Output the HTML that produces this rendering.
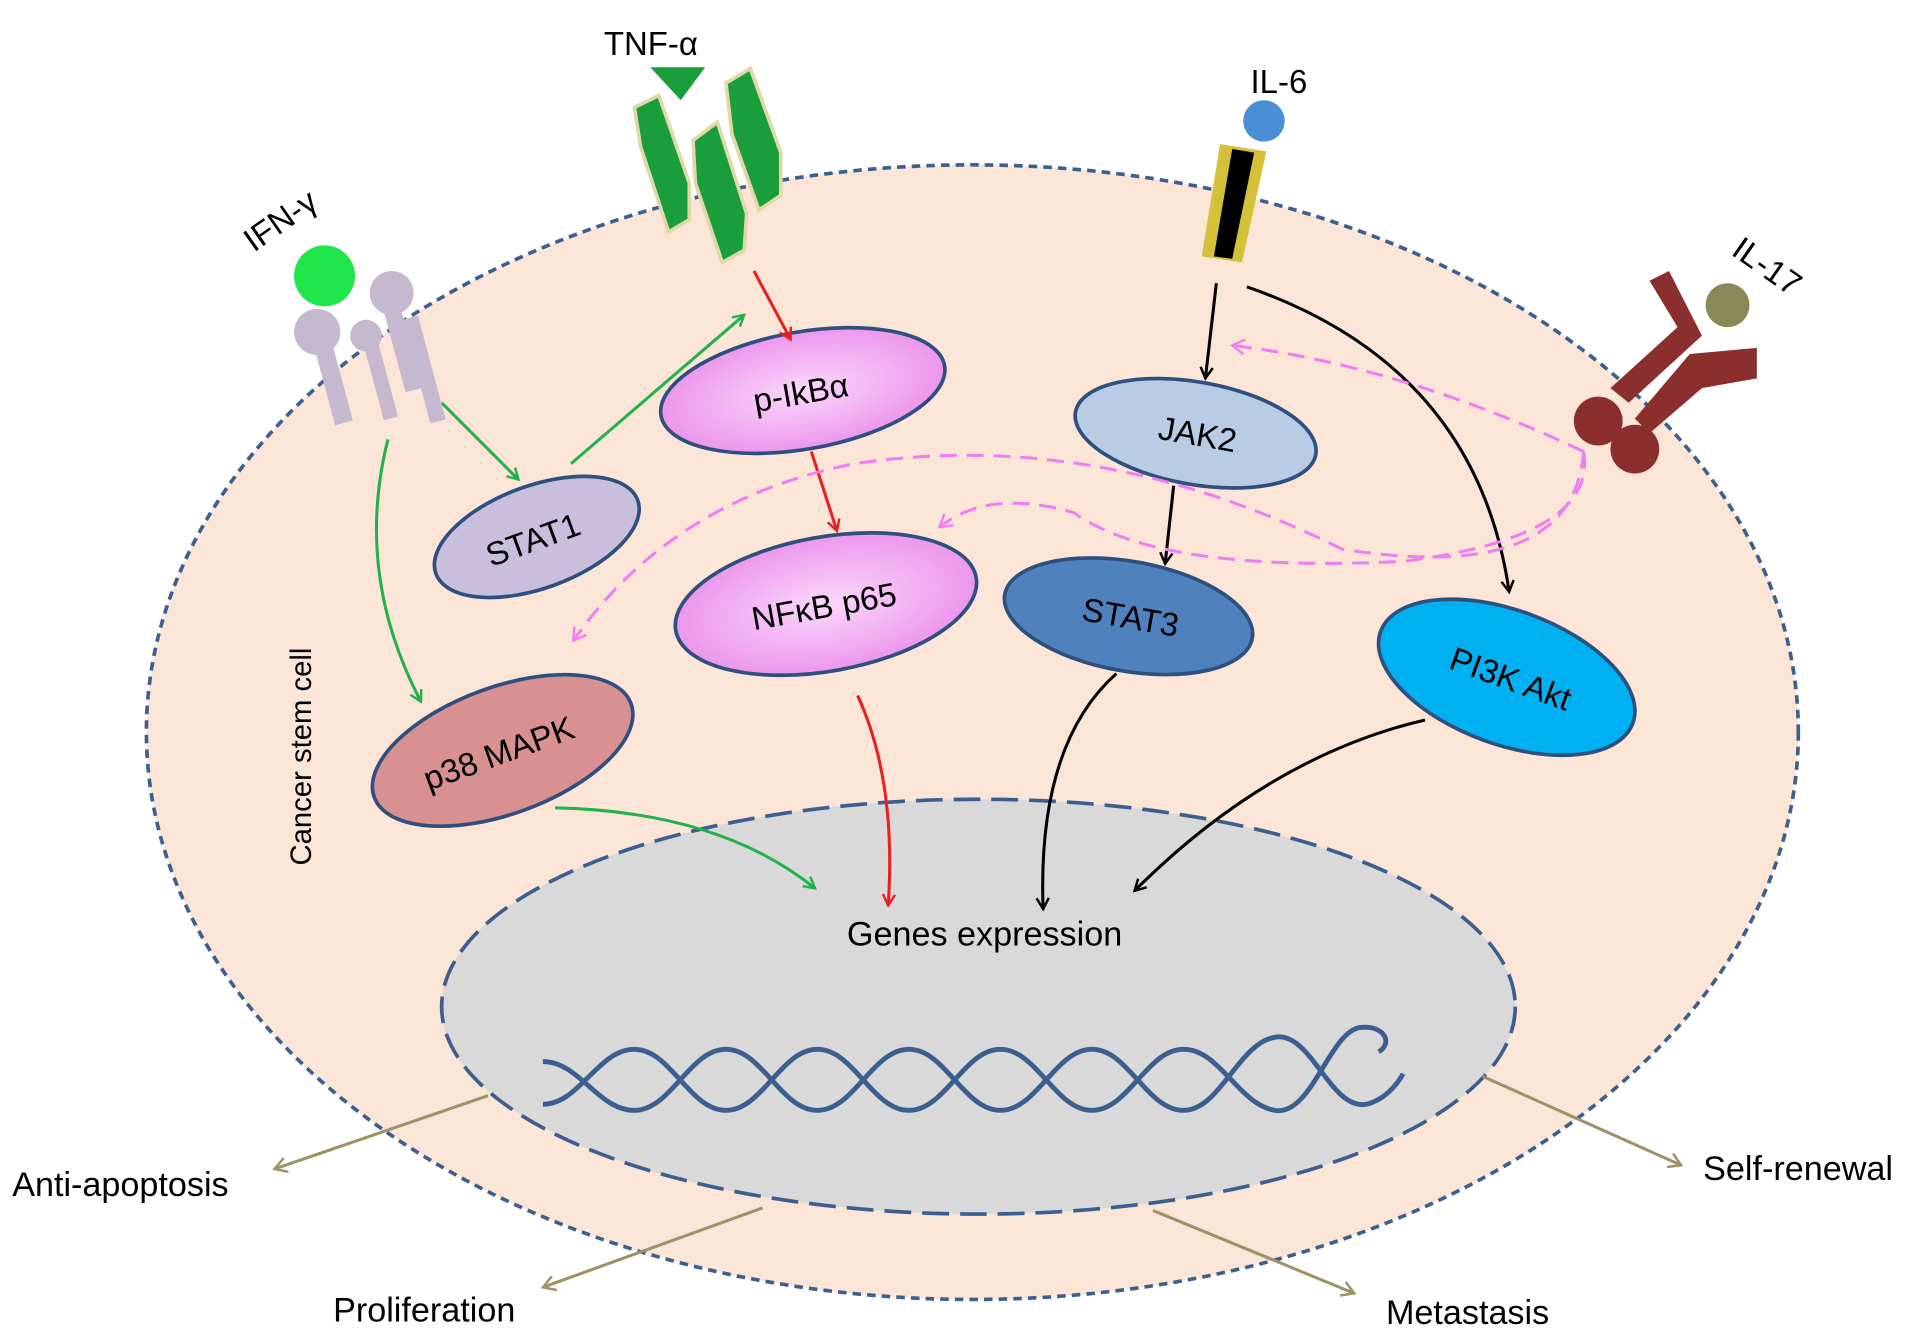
<!DOCTYPE html>
<html><head><style>html,body{margin:0;padding:0;background:#fff}svg{display:block}</style></head><body>
<svg width="1913" height="1335" viewBox="0 0 1568 1094" xmlns="http://www.w3.org/2000/svg" font-family="Liberation Sans, sans-serif">
<defs>
<radialGradient id="pk" cx="50%" cy="50%" r="60%"><stop offset="0" stop-color="#fbd8fb"/><stop offset="1" stop-color="#e98ae9"/></radialGradient>
<marker id="ag" markerWidth="12" markerHeight="12" refX="10" refY="6" orient="auto" markerUnits="userSpaceOnUse"><path d="M1,1 L10,6 L1,11" fill="none" stroke="#22b24c" stroke-width="2"/></marker>
<marker id="ar" markerWidth="12" markerHeight="12" refX="10" refY="6" orient="auto" markerUnits="userSpaceOnUse"><path d="M1,1 L10,6 L1,11" fill="none" stroke="#e8201e" stroke-width="2"/></marker>
<marker id="ak" markerWidth="12" markerHeight="12" refX="10" refY="6" orient="auto" markerUnits="userSpaceOnUse"><path d="M1,1 L10,6 L1,11" fill="none" stroke="#000" stroke-width="2"/></marker>
<marker id="ap" markerWidth="14" markerHeight="14" refX="11" refY="7" orient="auto" markerUnits="userSpaceOnUse"><path d="M1,1 L11,7 L1,13" fill="none" stroke="#f07ef0" stroke-width="2"/></marker>
<marker id="ab" markerWidth="14" markerHeight="14" refX="11" refY="7" orient="auto" markerUnits="userSpaceOnUse"><path d="M1,1 L11,7 L1,13" fill="none" stroke="#9c9266" stroke-width="2"/></marker>
</defs>
<ellipse cx="797" cy="600" rx="677" ry="465" fill="#fbe5d6" stroke="#3d5f8f" stroke-width="3" stroke-dasharray="7,5"/>
<ellipse cx="802" cy="825" rx="440" ry="170" fill="#d9d9d9" stroke="#3d5f8f" stroke-width="3" stroke-dasharray="22,9"/>
<g fill="none" stroke="#3d5f8f" stroke-width="4">
<path d="M445,870 C475,870 490,910 520,910 C550,910 565,860 595,860 C625,860 640,910 670,910 C700,910 715,860 745,860 C775,860 790,910 820,910 C850,910 865,860 895,860 C925,860 940,910 970,910 C1000,910 1015,855 1045,850 C1075,845 1090,910 1120,905 C1140,900 1150,880 1150,880"/>
<path d="M445,905 C475,905 490,860 520,860 C550,860 565,910 595,910 C625,910 640,860 670,860 C700,860 715,910 745,910 C775,910 790,860 820,860 C850,860 865,910 895,910 C925,910 940,860 970,860 C1000,860 1015,905 1045,910 C1075,915 1090,845 1115,842 C1135,840 1142,855 1130,862"/>
</g>
<text x="807" y="775" font-size="28" text-anchor="middle">Genes expression</text>
<text transform="translate(255,620) rotate(-90)" font-size="24" text-anchor="middle">Cancer stem cell</text>
<g stroke="#2f4f7f" stroke-width="3">
<ellipse cx="658" cy="320" rx="118" ry="48" fill="url(#pk)" transform="rotate(-10 658 320)"/>
<ellipse cx="440" cy="440" rx="88" ry="42" fill="#c9bfdc" transform="rotate(-20 440 440)"/>
<ellipse cx="677" cy="495" rx="125" ry="55" fill="url(#pk)" transform="rotate(-10 677 495)"/>
<ellipse cx="412" cy="615" rx="112" ry="52" fill="#d99090" transform="rotate(-20 412 615)"/>
<ellipse cx="980" cy="355" rx="100" ry="42" fill="#b8cce4" transform="rotate(10 980 355)"/>
<ellipse cx="925" cy="505" rx="103" ry="45" fill="#4f81bd" transform="rotate(10 925 505)"/>
<ellipse cx="1235" cy="555" rx="110" ry="55" fill="#00b0f0" transform="rotate(20 1235 555)"/>
</g>
<g font-size="27" text-anchor="middle">
<text transform="translate(658,331) rotate(-10)">p-IkBα</text>
<text transform="translate(440,451) rotate(-20)">STAT1</text>
<text transform="translate(677,506) rotate(-10)">NFκB p65</text>
<text transform="translate(412,626) rotate(-20)">p38 MAPK</text>
<text transform="translate(980,365) rotate(10)">JAK2</text>
<text transform="translate(925,515) rotate(10)">STAT3</text>
<text transform="translate(1235,565) rotate(20)">PI3K Akt</text>
</g>
<g fill="none" stroke-width="2.5">
<path d="M468,380 L610,258" stroke="#22b24c" marker-end="url(#ag)"/>
<path d="M362,330 L425,393" stroke="#22b24c" marker-end="url(#ag)"/>
<path d="M318,360 Q290,470 345,575" stroke="#22b24c" marker-end="url(#ag)"/>
<path d="M455,662 Q590,665 668,728" stroke="#22b24c" marker-end="url(#ag)"/>
<path d="M618,222 L648,278" stroke="#e8201e" marker-end="url(#ar)"/>
<path d="M665,370 L686,435" stroke="#e8201e" marker-end="url(#ar)"/>
<path d="M703,570 Q735,640 728,742" stroke="#e8201e" marker-end="url(#ar)"/>
<path d="M997,232 L988,310" stroke="#000" marker-end="url(#ak)"/>
<path d="M962,398 L955,462" stroke="#000" marker-end="url(#ak)"/>
<path d="M1022,235 Q1210,300 1237,485" stroke="#000" marker-end="url(#ak)"/>
<path d="M915,552 Q850,610 855,745" stroke="#000" marker-end="url(#ak)"/>
<path d="M1168,590 Q1040,620 930,730" stroke="#000" marker-end="url(#ak)"/>
</g>
<g fill="none" stroke="#f07ef0" stroke-width="2.5" stroke-dasharray="14,8">
<path d="M1298,370 Q1150,300 1010,283" marker-end="url(#ap)"/>
<path d="M1298,370 Q1310,440 1150,460 Q950,470 880,420 Q810,400 770,432" marker-end="url(#ap)"/>
<path d="M1298,370 Q1290,480 1100,450 Q900,350 700,380 Q550,410 470,525" marker-end="url(#ap)"/>
</g>
<g fill="none" stroke="#9c9266" stroke-width="2.5">
<path d="M400,898 L225,958" marker-end="url(#ab)"/>
<path d="M625,990 L445,1055" marker-end="url(#ab)"/>
<path d="M945,992 L1110,1060" marker-end="url(#ab)"/>
<path d="M1215,882 L1378,955" marker-end="url(#ab)"/>
</g>
<g font-size="28">
<text x="10" y="980">Anti-apoptosis</text>
<text x="273" y="1083">Proliferation</text>
<text x="1136" y="1085">Metastasis</text>
<text x="1396" y="967">Self-renewal</text>
</g>
<circle cx="266" cy="226" r="25" fill="#1ee64a"/>
<g fill="#c4b9cf">
<circle cx="321" cy="240" r="18"/><rect x="314" y="252" width="14" height="70" transform="rotate(-15 321 252)"/>
<circle cx="260" cy="272" r="19"/><rect x="257" y="282" width="15" height="68" transform="rotate(-15 260 282)"/>
<circle cx="300" cy="275" r="13"/><rect x="298" y="282" width="12" height="64" transform="rotate(-15 300 282)"/>
<rect x="330" y="262" width="13" height="88" transform="rotate(-15 330 262)"/>
</g>
<text transform="translate(208,207) rotate(-35)" font-size="27">IFN-γ</text>
<text x="495" y="45" font-size="27">TNF-α</text>
<polygon points="533,55 578,55 558,82" fill="#1a9e3c"/>
<g fill="#1a9e3c" stroke="#e0d8a8" stroke-width="3">
<polygon points="520,88 540,78 565,150 565,180 548,190 525,120"/>
<polygon points="568,115 588,100 612,175 610,205 592,215 570,150"/>
<polygon points="595,68 615,56 640,125 640,160 622,172 600,110"/>
</g>
<text x="1025" y="76" font-size="27">IL-6</text>
<circle cx="1036" cy="99" r="17" fill="#4a8fd6"/>
<polygon points="1000,118 1038,124 1018,215 985,210" fill="#d4c13a"/>
<polygon points="1010,122 1028,125 1010,212 995,210" fill="#000"/>
<text transform="translate(1418,208) rotate(35)" font-size="27">IL-17</text>
<circle cx="1416" cy="250" r="18" fill="#8c8756"/>
<g fill="#8b2e2e">
<polygon points="1352,230 1368,222 1395,275 1335,330 1320,318 1375,268"/>
<circle cx="1310" cy="345" r="20"/>
<polygon points="1385,290 1440,285 1440,310 1395,318 1352,355 1340,343"/>
<circle cx="1340" cy="368" r="20"/>
</g>
</svg>
</body></html>
